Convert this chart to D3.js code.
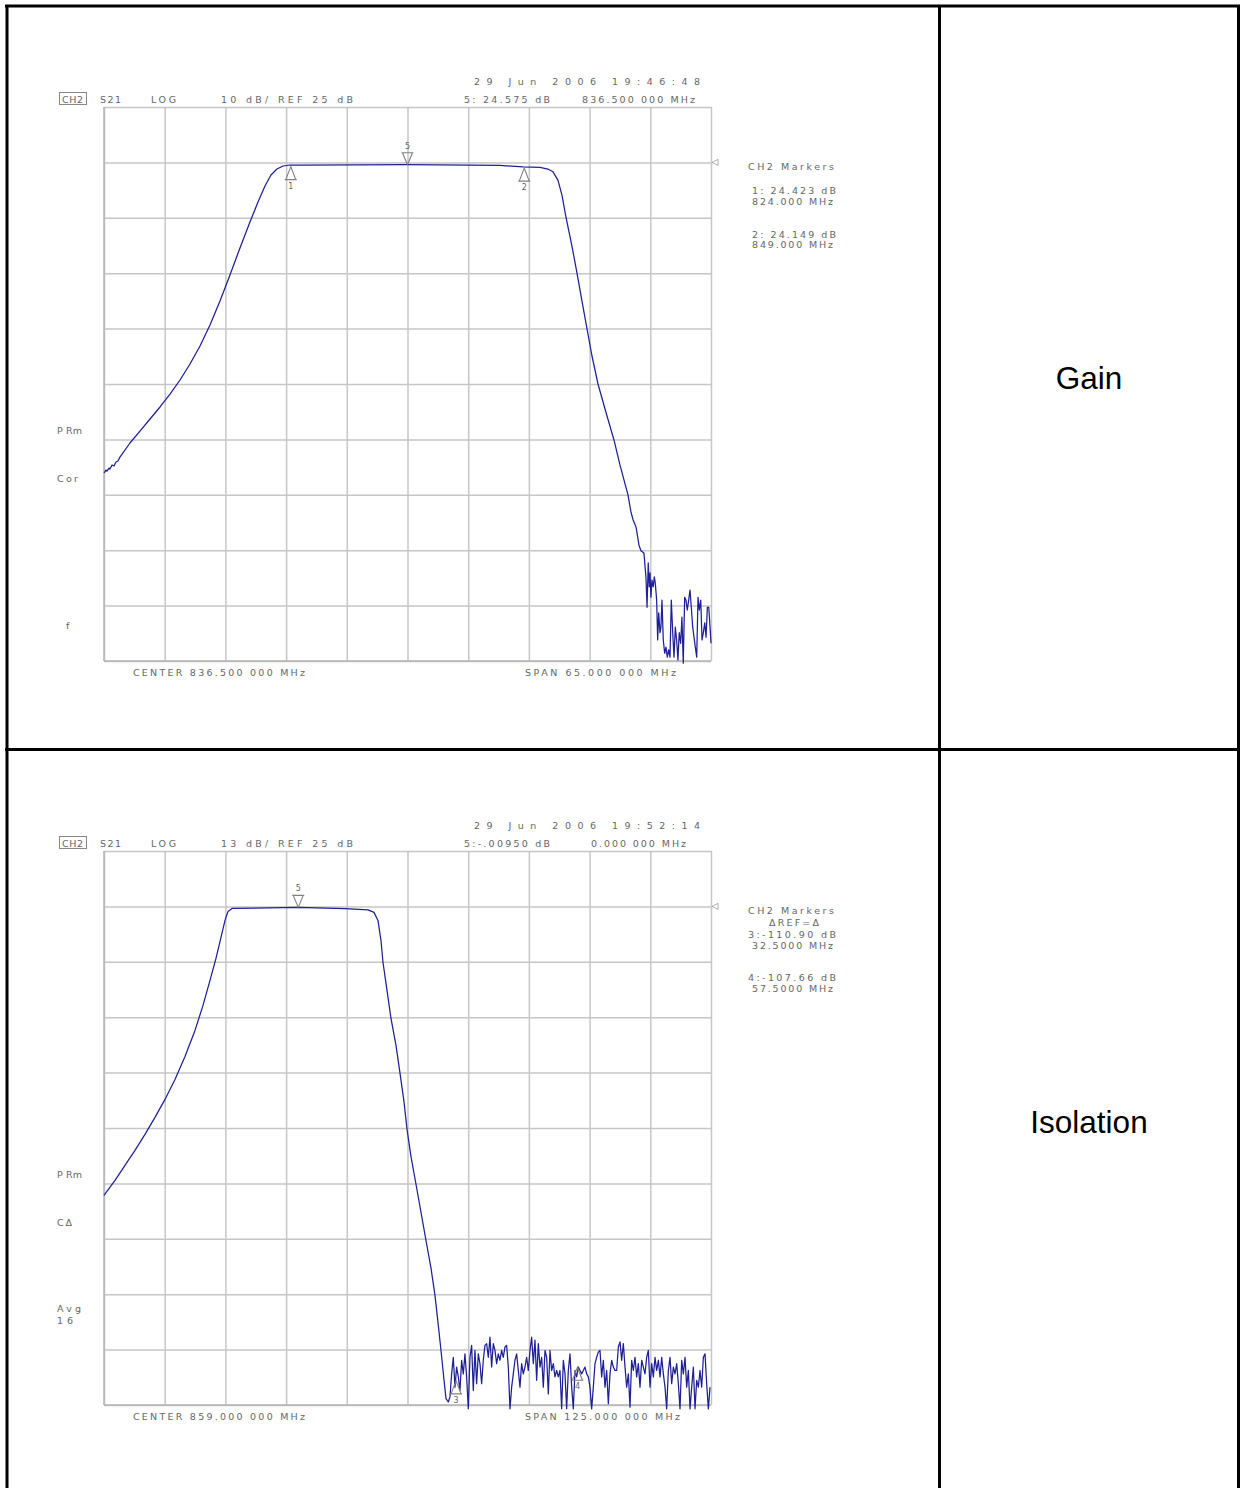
<!DOCTYPE html>
<html><head><meta charset="utf-8">
<script src="https://cdn.jsdelivr.net/npm/d3@7"></script>
<style>html,body{margin:0;padding:0;background:#fff}svg{display:block}</style>
</head><body>
<script>
// ---------------- DATA ----------------
// Panel 1 : Gain (S21, 10 dB/div, REF 25 dB, center 836.5 MHz, span 65 MHz)
const gainF = [804.00,804.21,804.32,804.54,804.64,804.86,805.07,805.28,805.50,805.71,806.78,807.85,808.93,810.00,811.07,812.14,813.21,814.28,815.35,816.42,817.49,818.56,819.63,820.49,821.24,821.88,822.52,823.17,823.92,825.00,836.45,846.40,848.87,850.69,851.54,852.08,852.61,853.04,853.47,854.11,854.65,855.18,855.72,856.25,856.90,857.75,858.61,859.25,859.68,860.11,860.43,860.65,860.97,861.29,861.50,861.82,
  862.04,862.15,862.28,862.39,862.47,862.57,862.68,862.82,862.93,863.03,863.18,863.29,863.40,863.54,863.64,863.75,863.89,864.04,864.18,864.32,864.47,864.61,864.75,864.90,865.04,865.18,865.32,865.46,865.60,865.75,865.89,866.03,866.18,866.32,866.46,866.61,866.75,866.89,867.04,867.18,867.32,867.47,867.61,867.75,867.90,868.04,868.18,868.33,868.47,868.61,868.76,868.90,869.00];
const gainDb = [-31.07,-30.53,-30.71,-30.17,-30.35,-29.62,-29.80,-29.08,-28.90,-28.18,-25.65,-23.49,-21.32,-19.15,-16.81,-14.28,-11.39,-8.14,-4.35,-0.02,4.67,9.55,14.24,17.85,20.74,22.73,23.81,24.35,24.53,24.5,24.6,24.45,24.2,24.1,23.8,23.3,21.8,19.1,15.1,9.9,5.0,0.0,-5.0,-9.9,-15.0,-20.1,-25.1,-29.6,-32.3,-35.0,-38.1,-39.5,-40.8,-44.1,-45.1,-45.5,
  -50.0,-55.3,-47.3,-51.6,-49.1,-53.5,-50.4,-51.6,-49.8,-50.9,-54.0,-61.2,-56.3,-59.9,-58.9,-54.0,-61.2,-63.6,-62.5,-64.3,-63.0,-64.3,-54.0,-59.9,-64.3,-58.9,-61.2,-64.8,-59.9,-61.8,-57.1,-65.4,-53.5,-54.0,-55.8,-54.0,-52.2,-55.3,-58.9,-60.7,-62.5,-64.3,-53.5,-55.8,-54.0,-61.2,-59.9,-58.1,-60.7,-55.3,-55.3,-58.9,-61.8];
const gainFreqTicks = [804,810.5,817,823.5,830,836.5,843,849.5,856,862.5,869];
const gainDbTicks = [-65,-55,-45,-35,-25,-15,-5,5,15,25,35];
const gainRefDb = 25;
const gainMarkerIds = ["1","2","5"];
const gainMarkerF = [824.0,849.0,836.5];
const gainMarkerDb = [24.423,24.149,24.575];

// Panel 2 : Isolation (S21, 13 dB/div, REF 25 dB, center 859 MHz, span 125 MHz)
const isoF = [796.50,798.77,800.82,802.88,804.94,807.00,809.06,811.12,813.18,815.24,816.89,818.33,819.56,820.59,821.42,822.04,822.86,836.24,846.13,850.87,852.10,852.92,853.54,853.95,854.78,855.60,856.63,857.46,858.28,858.90,859.72,860.75,861.78,862.81,863.84,864.66,865.28,865.90,866.52,866.93];
const isoDb = [-42.82,-39.30,-35.78,-32.26,-28.50,-24.51,-20.29,-15.60,-10.20,-4.10,1.77,7.64,12.80,17.73,21.71,23.83,24.53,24.77,24.5,24.2,23.6,21.7,17.0,11.9,5.3,-1.3,-7.6,-14.2,-20.8,-27.3,-33.7,-40.2,-46.8,-53.4,-59.9,-66.3,-72.6,-79.2,-86.2,-90.5];
const isoNoiseStart = 867.4, isoNoiseStop = 921.3;
const isoNoiseDb = [-91.3,-90.1,-84.7,-80.8,-87.8,-83.1,-85.4,-88.6,-81.5,-84.7,-80.0,-85.4,-92.9,-80.8,-78.0,-88.6,-79.2,-87.0,-80.0,-82.3,
  -87.0,-81.5,-78.0,-77.6,-80.8,-76.1,-83.1,-77.6,-79.2,-82.3,-80.0,-81.5,-79.2,-80.8,-78.4,-78.0,-83.1,-92.9,-87.8,-84.7,
  -81.5,-80.0,-83.9,-87.8,-82.3,-84.7,-83.1,-80.8,-83.9,-79.2,-76.1,-82.3,-76.8,-86.2,-77.6,-83.1,-80.8,-87.8,-79.2,-80.8,
  -89.4,-79.2,-83.9,-82.3,-85.4,-83.9,-85.4,-83.9,-92.9,-81.5,-84.7,-92.9,-83.9,-80.0,-87.8,-92.9,-83.9,-85.4,-83.1,-83.9,
  -84.7,-83.9,-83.1,-84.7,-85.4,-87.8,-92.9,-87.8,-82.3,-80.8,-79.6,-79.2,-85.4,-81.5,-87.8,-83.9,-91.7,-84.7,-81.5,-83.1,
  -83.9,-83.9,-78.4,-77.2,-81.5,-77.6,-83.1,-87.8,-84.7,-92.5,-81.5,-83.9,-80.8,-85.4,-82.3,-87.8,-81.5,-83.1,-84.7,-80.8,
  -79.2,-87.8,-82.3,-85.4,-80.8,-83.9,-81.5,-85.4,-80.8,-84.7,-87.8,-92.9,-83.9,-80.8,-87.0,-83.1,-84.7,-82.3,-87.0,-92.9,
  -81.5,-84.7,-80.8,-87.8,-83.9,-92.9,-87.8,-83.1,-92.9,-86.2,-87.8,-83.9,-87.8,-80.8,-80.0,-87.0,-92.9,-87.8];
const isoFreqTicks = [796.5,809,821.5,834,846.5,859,871.5,884,896.5,909,921.5];
const isoDbTicks = [-92,-79,-66,-53,-40,-27,-14,-1,12,25,38];
const isoRefDb = 25;
const isoMarkerIds = ["5","3","4"];
const isoMarkerF = [836.5,869.0,894.0];
const isoMarkerDb = [24.77,-86.1,-82.9];

// ---------------- DRAW ----------------
const W = 1240, H = 1488;
const svg = d3.select("body").append("svg").attr("width", W).attr("height", H);
const TXT = "#666666", GRID = "#c6c6c6", TRACE = "#1f1f96";
const FONT = "'DejaVu Sans', sans-serif";

function label(g, x, y, s, len, size) {
  const t = g.append("text").attr("x", x).attr("y", y).text(s)
    .attr("font-family", FONT).attr("font-size", size || 9.5).attr("fill", TXT);
  if (len) t.attr("textLength", len).attr("lengthAdjust", "spacing");
  return t;
}

function panel(oy, cfg) {
  const g = svg.append("g").attr("transform", `translate(0,${oy})`);
  const x = d3.scaleLinear().domain([cfg.fTicks[0], cfg.fTicks[cfg.fTicks.length-1]]).range([104, 711]);
  const y = d3.scaleLinear().domain([cfg.dbTicks[0], cfg.dbTicks[cfg.dbTicks.length-1]]).range([661, 107]);

  // grid via axes
  const gx = g.append("g").attr("transform", "translate(0,661)")
    .call(d3.axisBottom(x).tickValues(cfg.fTicks).tickSize(-554).tickFormat(""));
  const gy = g.append("g").attr("transform", "translate(104,0)")
    .call(d3.axisLeft(y).tickValues(cfg.dbTicks).tickSize(-607).tickFormat(""));
  [gx, gy].forEach(a => {
    a.select(".domain").remove();
    a.selectAll("line").attr("stroke", GRID).attr("stroke-width", 1.5);
  });
  g.append("line").attr("x1", 104).attr("x2", 104).attr("y1", 107).attr("y2", 661)
    .attr("stroke", "#b4b4b4").attr("stroke-width", 1.5);
  g.append("line").attr("x1", 104).attr("x2", 711).attr("y1", 661).attr("y2", 661)
    .attr("stroke", "#b4b4b4").attr("stroke-width", 1.5);

  // reference position marker
  const ry = y(cfg.ref);
  g.append("path").attr("d", `M712,${ry} L718,${ry-3} L718,${ry+3} Z`)
    .attr("fill", "none").attr("stroke", "#999").attr("stroke-width", 0.8);

  // trace
  const pts = cfg.f.map((f, i) => [f, cfg.db[i]]);
  const line = d3.line().x(d => x(d[0])).y(d => y(d[1]));
  g.append("path").attr("d", line(pts)).attr("fill", "none")
    .attr("stroke", TRACE).attr("stroke-width", 1.25).attr("stroke-linejoin", "round");

  // markers
  cfg.mIds.forEach((id, i) => {
    const mx = x(cfg.mF[i]), my = y(cfg.mDb[i]);
    const down = cfg.mDown[i];
    if (down) {
      g.append("path").attr("d", `M${mx-6},${my-12} L${mx+6},${my-12} M${mx-5},${my-12} L${mx},${my} L${mx+5},${my-12}`)
        .attr("fill", "none").attr("stroke", "#808080").attr("stroke-width", 1.1);
      label(g, mx, my - 16, id, null, 8).attr("text-anchor", "middle");
    } else {
      g.append("path").attr("d", `M${mx},${my+1} L${mx-5},${my+14} L${mx+5},${my+14} Z M${mx-6},${my+14} L${mx+6},${my+14}`)
        .attr("fill", "none").attr("stroke", "#808080").attr("stroke-width", 1.1);
      label(g, mx, my + 23, id, null, 8).attr("text-anchor", "middle");
    }
  });

  // header texts
  label(g, 474, 85, cfg.date, 226);
  g.append("rect").attr("x", 59.5).attr("y", 92.5).attr("width", 27).attr("height", 12)
    .attr("fill", "none").attr("stroke", "#888").attr("stroke-width", 1);
  label(g, 62, 102.5, "CH2", 21);
  label(g, 100, 102.5, "S21", 21);
  label(g, 151, 102.5, "LOG", 25);
  label(g, 221, 102.5, cfg.scaleTxt, 132);
  label(g, 464, 102.5, cfg.m5Txt, 86);
  label(g, cfg.m5fX, 102.5, cfg.m5fTxt, cfg.m5fLen);
  // right marker block
  cfg.right.forEach(r => label(g, r[0], r[1], r[2], r[3]));
  // left annotations
  cfg.left.forEach(r => label(g, r[0], r[1], r[2], r[3]));
  // bottom
  label(g, 133, 676, cfg.center, 172);
  label(g, 525, 676, cfg.span, cfg.spanLen);
}

panel(0, {
  f: gainF, db: gainDb, fTicks: gainFreqTicks, dbTicks: gainDbTicks, ref: gainRefDb,
  mIds: gainMarkerIds, mF: gainMarkerF, mDb: gainMarkerDb, mDown: [false, false, true],
  date: "29 Jun 2006 19:46:48", scaleTxt: "10 dB/ REF 25 dB", m5Txt: "5: 24.575 dB",
  m5fX: 582, m5fTxt: "836.500 000 MHz", m5fLen: 113,
  right: [[748,170,"CH2 Markers",86],[752,194,"1: 24.423 dB",84],[752,204.5,"824.000 MHz",81],
          [752,237.5,"2: 24.149 dB",84],[752,248,"849.000 MHz",81]],
  left: [[57,434,"P Rm",25],[57,482,"Cor",21],[66,629,"f",null]],
  center: "CENTER 836.500 000 MHz", span: "SPAN 65.000 000 MHz", spanLen: 151
});
panel(744, {
  f: isoF.concat(isoNoiseDb.map((d, i) => isoNoiseStart + i * (isoNoiseStop - isoNoiseStart) / (isoNoiseDb.length - 1))),
  db: isoDb.concat(isoNoiseDb), fTicks: isoFreqTicks, dbTicks: isoDbTicks, ref: isoRefDb,
  mIds: isoMarkerIds, mF: isoMarkerF, mDb: isoMarkerDb, mDown: [true, false, false],
  date: "29 Jun 2006 19:52:14", scaleTxt: "13 dB/ REF 25 dB", m5Txt: "5:-.00950 dB",
  m5fX: 591, m5fTxt: "0.000 000 MHz", m5fLen: 95,
  right: [[748,170,"CH2 Markers",86],[769,181.5,"\u0394REF=\u0394",50],[748,194,"3:-110.90 dB",88],
          [752,205,"32.5000 MHz",81],[748,237,"4:-107.66 dB",88],[752,247.5,"57.5000 MHz",81]],
  left: [[57,434,"P Rm",25],[57,482,"C\u0394",15],[57,568,"Avg",24],[57,580,"16",16]],
  center: "CENTER 859.000 000 MHz", span: "SPAN 125.000 000 MHz", spanLen: 155
});

// table frame
const frame = svg.append("g").attr("stroke", "#000").attr("stroke-width", 3).attr("fill", "none");
frame.append("line").attr("x1", 5).attr("x2", 1240).attr("y1", 6).attr("y2", 6);
frame.append("line").attr("x1", 7).attr("x2", 7).attr("y1", 5).attr("y2", H);
frame.append("line").attr("x1", 1238.5).attr("x2", 1238.5).attr("y1", 5).attr("y2", H);
frame.append("line").attr("x1", 939.5).attr("x2", 939.5).attr("y1", 5).attr("y2", H);
frame.append("line").attr("x1", 5).attr("x2", 1240).attr("y1", 749.5).attr("y2", 749.5);

const cellLabels = ["Gain", "Isolation"];
svg.selectAll("text.cell").data(cellLabels).join("text").attr("class", "cell")
  .attr("x", 1089).attr("y", (d, i) => 389 + i * 744).attr("text-anchor", "middle")
  .attr("font-family", "'Liberation Sans', Arial, sans-serif").attr("font-size", 31.5)
  .attr("fill", "#000").text(d => d);
</script>
</body></html>
